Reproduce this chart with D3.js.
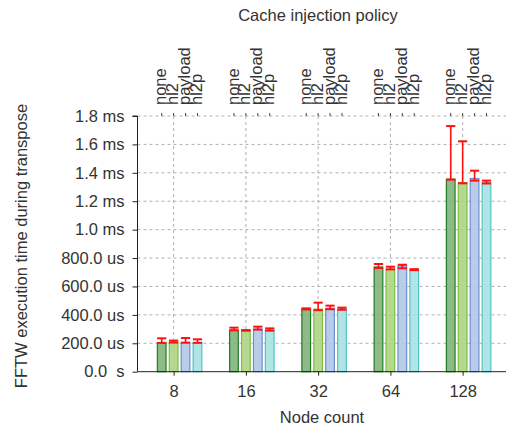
<!DOCTYPE html>
<html>
<head>
<meta charset="utf-8">
<script src="https://cdn.jsdelivr.net/npm/d3@7"></script>
<style>
  body { margin: 0; background: #fff; }
  svg { display: block; }
  text { font-family: "Liberation Sans", Arial, sans-serif; fill: #333; }
</style>
</head>
<body>
<svg id="chart" width="508" height="430"></svg>
<script>
// Node counts (x categories) and cache injection policies (series)
const nodeCounts = ["8", "16", "32", "64", "128"];
const policies = ["none", "hl2", "payload", "hl2p"];

// FFTW execution time during transpose, in microseconds
const noneMean    = [204, 293, 442, 737, 1355];
const hl2Mean     = [209, 291, 440, 723, 1332];
const payloadMean = [206, 300, 446, 745, 1360];
const hl2pMean    = [205, 293, 441, 718, 1330];

// Error bar extents (low / high), microseconds
const noneLow     = [203, 291, 438, 730, 1352];
const noneHigh    = [235, 310, 446, 758, 1729];
const hl2Low      = [205, 289, 433, 720, 1326];
const hl2High     = [219, 293, 486, 739, 1622];
const payloadLow  = [204, 296, 440, 728, 1345];
const payloadHigh = [237, 317, 465, 753, 1415];
const hl2pLow     = [203, 289, 436, 715, 1325];
const hl2pHigh    = [228, 305, 451, 722, 1345];

// Y tick values and their labels
const yTickValues = [0, 200, 400, 600, 800, 1000, 1200, 1400, 1600, 1800];
const yTickLabels = ["0.0  s", "200.0 us", "400.0 us", "600.0 us", "800.0 us",
                     "1.0 ms", "1.2 ms", "1.4 ms", "1.6 ms", "1.8 ms"];

const means = [noneMean, hl2Mean, payloadMean, hl2pMean];
const lows  = [noneLow, hl2Low, payloadLow, hl2pLow];
const highs = [noneHigh, hl2High, payloadHigh, hl2pHigh];

const fills   = ["#80b47a", "#acd583", "#b2c6e6", "#a8e2e2"];
const strokes = ["#237a23", "#7dbf40", "#6a8ecf", "#4ec6c9"];

const svg = d3.select("#chart");
const plotL = 137.5, plotR = 506, plotT = 116, plotB = 371.7;

const x = d3.scaleLinear().domain([-0.5, 4.6]).range([plotL, plotR]);
const y = d3.scaleLinear().domain([0, 1800]).range([plotB, plotT]);
const offset = k => (k - 1) * 0.165;
const barW = x(0.12) - x(0);

// Grid
const grid = svg.append("g").attr("stroke", "#b0b0b0").attr("stroke-dasharray", "3,3").attr("stroke-width", 1);
grid.selectAll("line.h").data(yTickValues.slice(1)).join("line")
  .attr("x1", plotL).attr("x2", plotR)
  .attr("y1", d => y(d)).attr("y2", d => y(d));
grid.selectAll("line.v").data(nodeCounts).join("line")
  .attr("x1", (d, i) => x(i)).attr("x2", (d, i) => x(i))
  .attr("y1", plotT).attr("y2", plotB);

// Bars
const rows = [];
nodeCounts.forEach((n, i) => policies.forEach((p, k) => rows.push({
  i, k, v: means[k][i], lo: lows[k][i], hi: highs[k][i]
})));

svg.append("g").selectAll("rect").data(rows).join("rect")
  .attr("x", d => x(d.i + offset(d.k)) - barW / 2)
  .attr("width", barW)
  .attr("y", d => y(d.v))
  .attr("height", d => y(0) - y(d.v))
  .attr("fill", d => fills[d.k])
  .attr("fill-opacity", 0.9)
  .attr("stroke", d => strokes[d.k])
  .attr("stroke-width", 1.2);

// Error bars
const eb = svg.append("g").attr("stroke", "#ff1010").attr("stroke-width", 1.6);
const capW = 4.6;
rows.forEach(d => {
  const cx = x(d.i + offset(d.k));
  eb.append("line").attr("x1", cx).attr("x2", cx).attr("y1", y(d.lo)).attr("y2", y(d.hi));
  eb.append("line").attr("x1", cx - capW).attr("x2", cx + capW).attr("y1", y(d.lo)).attr("y2", y(d.lo)).attr("stroke-width", 2);
  eb.append("line").attr("x1", cx - capW).attr("x2", cx + capW).attr("y1", y(d.hi)).attr("y2", y(d.hi)).attr("stroke-width", 2);
});

// Axes
const yAxis = d3.axisLeft(y).tickValues(yTickValues)
  .tickFormat((d, i) => yTickLabels[i]).tickSize(5).tickPadding(8);
const gy = svg.append("g").attr("transform", `translate(${plotL},0)`).call(yAxis);
gy.select(".domain").attr("stroke", "#222").attr("d", `M-5,${plotT}H0V${plotB}`);
gy.selectAll(".tick line").attr("stroke", "#222");
gy.selectAll(".tick text").style("font-size", "16.5px").style("white-space", "pre")
  .attr("fill", "#333").attr("font-family", null);

const xAxis = d3.axisBottom(x).tickValues(d3.range(nodeCounts.length))
  .tickFormat(i => nodeCounts[i]).tickSize(4).tickPadding(10);
const gx = svg.append("g").attr("transform", `translate(0,${plotB})`).call(xAxis);
gx.select(".domain").attr("stroke", "#222").attr("d", `M${plotL},0H${plotR}`);
gx.selectAll(".tick line").attr("stroke", "#222");
gx.selectAll(".tick text").style("font-size", "16.5px").attr("fill", "#333").attr("font-family", null);

// Top axis: policy labels over each bar
const topG = svg.append("g");
rows.forEach(d => {
  const cx = x(d.i + offset(d.k));
  topG.append("line").attr("x1", cx).attr("x2", cx).attr("y1", plotT).attr("y2", plotT - 3)
    .attr("stroke", "#444").attr("stroke-width", 1);
  topG.append("text")
    .attr("transform", `translate(${cx + 4.6},105) rotate(-90)`)
    .attr("text-anchor", "start")
    .style("font-size", "16.5px")
    .text(policies[d.k]);
});

// Titles
svg.append("text").attr("x", 318).attr("y", 21).attr("text-anchor", "middle")
  .style("font-size", "16.5px").text("Cache injection policy");
svg.append("text").attr("x", 322).attr("y", 423).attr("text-anchor", "middle")
  .style("font-size", "16.5px").text("Node count");
svg.append("text").attr("transform", "translate(27,246) rotate(-90)").attr("text-anchor", "middle")
  .style("font-size", "16.5px").text("FFTW execution time during transpose");
</script>
</body>
</html>
